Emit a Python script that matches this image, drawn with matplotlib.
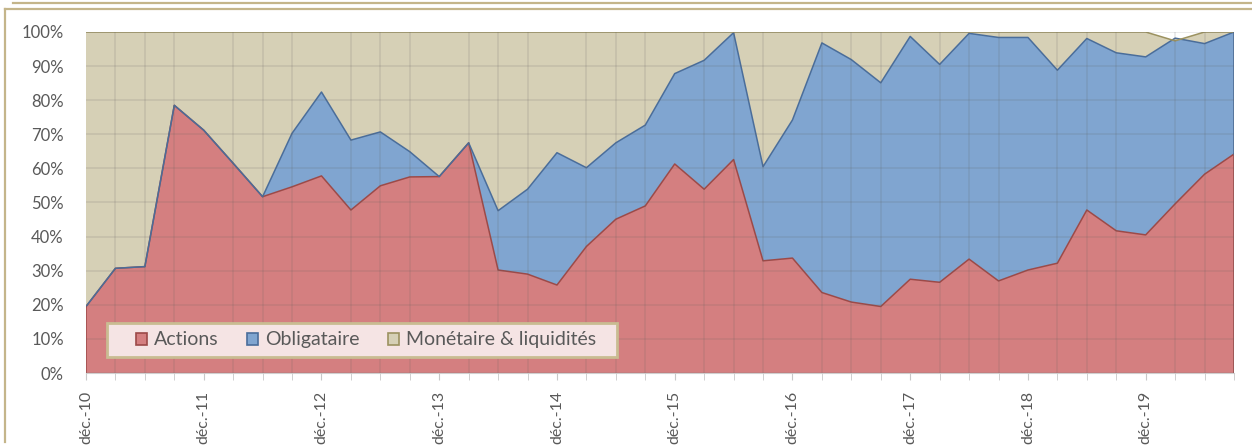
import numpy as np
import matplotlib
matplotlib.use('agg')
import matplotlib.pyplot as plt
from matplotlib.patches import Patch, Rectangle
from matplotlib.lines import Line2D
from matplotlib.ticker import FixedLocator, PercentFormatter

# Quarterly allocation (%), déc.-10 .. sept.-20
actions = [19.5, 30.7, 31.2, 78.5, 71.2, 61.5, 51.7, 54.6, 57.8, 47.8,
           54.9, 57.5, 57.6, 67.5, 30.2, 29.0, 25.8, 37.1, 45.1, 49.0,
           61.3, 53.9, 62.6, 32.9, 33.7, 23.6, 20.8, 19.5, 27.5, 26.6,
           33.4, 27.0, 30.2, 32.2, 47.8, 41.7, 40.5, 49.6, 58.3, 64.2]
obligataire = [0, 0, 0, 0, 0, 0, 0, 15.7, 24.6, 20.5,
               15.8, 7.4, 0, 0, 17.4, 24.9, 38.8, 23.1, 22.4, 23.7,
               26.5, 37.8, 37.2, 27.6, 40.5, 73.2, 71.1, 65.6, 71.2, 63.9,
               66.2, 71.4, 68.2, 56.6, 50.3, 52.2, 52.2, 48.6, 38.3, 35.8]
monetaire = [80.5, 69.3, 68.8, 21.5, 28.8, 38.5, 48.3, 29.7, 17.6, 31.7,
             29.3, 35.1, 42.4, 32.5, 52.4, 46.1, 35.4, 39.8, 32.5, 27.3,
             12.2, 8.3, 0.2, 39.5, 25.8, 3.2, 8.1, 14.9, 1.3, 9.5,
             0.4, 1.6, 1.6, 11.2, 1.9, 6.1, 7.3, -0.8, 3.4, 0.0]
series_names = ['Actions', 'Obligataire', 'Monétaire & liquidités']
year_labels = ['déc.-10', 'déc.-11', 'déc.-12', 'déc.-13', 'déc.-14',
               'déc.-15', 'déc.-16', 'déc.-17', 'déc.-18', 'déc.-19']

plt.rcParams['font.family'] = ['Lato', 'DejaVu Sans']
text_color = '#595959'
fills = ['#D47F80', '#80A5D0', '#D6D0B6']
edges = ['#9C4A48', '#4A6D9A', '#9C9260']

W, H = 1252, 448
fig = plt.figure(figsize=(W / 100, H / 100), dpi=100)
ax = fig.add_axes([86 / W, 1 - 373 / H, (1234 - 86) / W, (373 - 32) / H])

x = np.arange(len(actions))
ax.stackplot(x, actions, obligataire, monetaire, colors=fills,
             edgecolor='none', zorder=1)
# outlines like Excel: each series border drawn in order
base = np.zeros(len(x))
for vals, ec in zip([actions, obligataire, monetaire], edges):
    top = base + np.array(vals)
    ax.plot(x, top, color=ec, lw=1.1, zorder=2)
    base = top
ax.plot([0, 0], [0, actions[0]], color=edges[0], lw=1.1, zorder=2)
ax.plot([x[-1], x[-1]], [0, actions[-1]], color=edges[0], lw=1.1, zorder=2)
ax.plot([x[-1], x[-1]], [actions[-1], 100], color=edges[1], lw=1.1, zorder=2)

ax.set_xlim(0, x[-1])
ax.set_ylim(0, 100)

# grid (shows through the areas)
ax.yaxis.set_major_locator(FixedLocator(np.arange(0, 101, 10)))
ax.yaxis.set_major_formatter(PercentFormatter(decimals=0))
ax.xaxis.set_major_locator(FixedLocator(x[::4]))
ax.set_xticklabels(year_labels)
ax.xaxis.set_minor_locator(FixedLocator(x))
ax.grid(axis='y', which='major', color='#606060', alpha=0.15, lw=1.2, zorder=3)
ax.grid(axis='x', which='minor', color='#606060', alpha=0.15, lw=1.2, zorder=3)
ax.set_axisbelow(False)

for s in ['top', 'right', 'left']:
    ax.spines[s].set_visible(False)
ax.spines['bottom'].set_color('#d0d0d0')
ax.tick_params(axis='y', length=0, pad=16, labelsize=12, labelcolor=text_color)
ax.tick_params(axis='x', which='both', length=5, color='#c8c8c8', direction='out')
ax.tick_params(axis='x', which='major', pad=8, labelsize=11.5, labelcolor=text_color,
               labelrotation=90)

# legend box drawn by hand (Excel-like padding)
ax.add_patch(Rectangle((0.0183, 0.047), 0.4442, 0.0996, transform=ax.transAxes,
                       facecolor='#F5E4E4', edgecolor='#C9BC92', lw=2, zorder=4))
handles = [Patch(facecolor=f, edgecolor=e, lw=1.2) for f, e in zip(fills, edges)]
leg = ax.legend(handles, series_names, ncol=3, loc='center left',
                bbox_to_anchor=(0.0435, 0.097), borderaxespad=0, borderpad=0,
                fontsize=14, labelcolor=text_color, frameon=False,
                handlelength=0.58, handleheight=0.58, handletextpad=0.35,
                columnspacing=1.45)
leg.set_zorder(5)

# decorative frame
border = '#C4B58A'
fig.add_artist(Line2D([5 / W, 5 / W], [1 - 442 / H, 1 - 9 / H], color=border, lw=1.6,
                      transform=fig.transFigure))
fig.add_artist(Line2D([5 / W, 1], [1 - 9 / H, 1 - 9 / H], color=border, lw=1.6,
                      transform=fig.transFigure))
fig.add_artist(Line2D([13 / W, 1], [1 - 3 / H, 1 - 3 / H], color=border, lw=1.6,
                      transform=fig.transFigure))

fig.savefig('out.png', dpi=100)
